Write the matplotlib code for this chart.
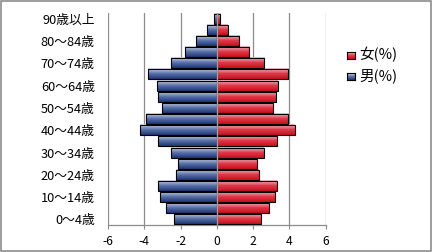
import numpy as np
import matplotlib
matplotlib.use("Agg")
import matplotlib.pyplot as plt
from matplotlib.colors import LinearSegmentedColormap
from matplotlib.patches import Rectangle

plt.rcParams['font.family'] = ['Noto Sans CJK JP', 'DejaVu Sans']
plt.rcParams['axes.unicode_minus'] = False

age_groups = ["0〜4歳", "5〜9歳", "10〜14歳", "15〜19歳", "20〜24歳", "25〜29歳",
              "30〜34歳", "35〜39歳", "40〜44歳", "45〜49歳", "50〜54歳", "55〜59歳",
              "60〜64歳", "65〜69歳", "70〜74歳", "75〜79歳", "80〜84歳", "85〜89歳",
              "90歳以上"]
male = [-2.34, -2.78, -3.11, -3.22, -2.23, -2.12, -2.50, -3.22, -4.22, -3.89,
        -3.00, -3.22, -3.28, -3.81, -2.54, -1.73, -1.16, -0.52, -0.13]
female = [2.43, 2.87, 3.19, 3.30, 2.30, 2.19, 2.58, 3.30, 4.29, 3.92,
          3.08, 3.28, 3.35, 3.92, 2.63, 1.80, 1.25, 0.59, 0.20]
xticks = [-6, -4, -2, 0, 2, 4, 6]
legend_labels = ["女(%)", "男(%)"]

blue_cmap = LinearSegmentedColormap.from_list("b", ["#1d3672", "#5a72a8", "#d4dbeb"])
red_cmap = LinearSegmentedColormap.from_list("r", ["#c8101c", "#e03848", "#f4c4ca"])

fig = plt.figure(figsize=(4.33, 2.52), dpi=100)
fig.patches.append(Rectangle((0.002, 0.004), 0.994, 0.992, transform=fig.transFigure,
                             fill=False, edgecolor="#8c8c8c", linewidth=1.2))
ax = fig.add_axes([0.2494, 0.107, 0.5026, 0.841])

y = np.arange(len(age_groups))
grad = np.linspace(0, 1, 64).reshape(-1, 1)

bm = ax.barh(y, male, height=0.9, facecolor="none", edgecolor="black", linewidth=0.8, zorder=3)
bf = ax.barh(y, female, height=0.9, facecolor="none", edgecolor="black", linewidth=0.8, zorder=3)
for bars, cmap in ((bm, blue_cmap), (bf, red_cmap)):
    for p in bars.patches:
        x0, y0 = p.get_x(), p.get_y()
        w, h = p.get_width(), p.get_height()
        ax.imshow(grad, cmap=cmap, origin="lower", aspect="auto",
                  extent=[min(x0, x0 + w), max(x0, x0 + w), y0, y0 + h], zorder=2)

ax.set_xlim(-6, 6)
ax.set_ylim(-0.5, len(age_groups) - 0.5)
ax.set_xticks(xticks)
ax.set_xticklabels([str(t) for t in xticks])
ax.set_yticks(y[::2])
ax.set_yticklabels(age_groups[::2])
ax.tick_params(axis="y", length=0, pad=9.5, labelsize=9.2)
ax.tick_params(axis="x", length=3, color="#888888", pad=4, labelsize=8.7)

for t in xticks:
    if t != 0:
        ax.axvline(t, color="#8c8c8c", linewidth=0.9, zorder=1)
ax.axvline(0, color="#a0a0a0", linewidth=1.0, zorder=4)

for s in ("top", "right", "left"):
    ax.spines[s].set_visible(False)
ax.spines["bottom"].set_color("#8c8c8c")
ax.spines["bottom"].set_linewidth(0.9)

# legend
lx = 347 / 433
for i, (lab, cmap) in enumerate(zip(legend_labels, (red_cmap, blue_cmap))):
    yy = 1 - (55 + i * 21) / 252
    lax = fig.add_axes([lx, yy - 0.014, 8 / 433, 7 / 252])
    lax.imshow(grad, cmap=cmap, origin="lower", aspect="auto", extent=[0, 1, 0, 1])
    lax.set_xticks([]); lax.set_yticks([])
    for s in lax.spines.values():
        s.set_linewidth(0.8)
    fig.text(359 / 433, yy, lab, fontsize=10.5, va="center", ha="left")

fig.savefig("out.png", dpi=100)
